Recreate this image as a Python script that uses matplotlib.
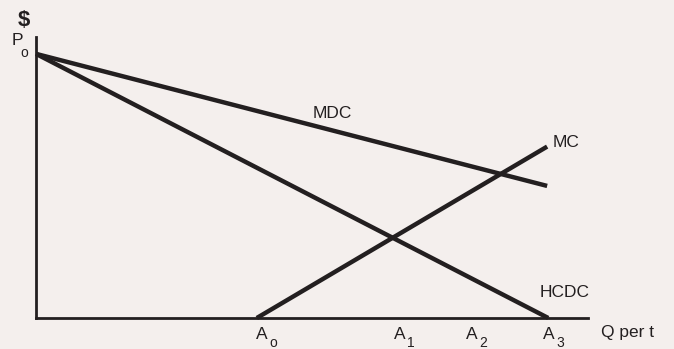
import matplotlib
matplotlib.use("Agg")
import matplotlib.pyplot as plt

# ---- data (abstract diagram units) ----
p0 = 94.0                      # price intercept P0
q_end = 92.6                   # right end of MDC / MC lines
mdc_end = 47.0                 # MDC value at q_end
mc_end = 61.0                  # MC value at q_end
a0 = 40.0                      # MC starts at A0
a3 = 92.8                      # HCDC reaches zero at A3
a_positions = [40.9, 65.9, 79.0, 92.9]    # A0..A3 label positions
a_subs = ["o", "1", "2", "3"]

FONT = ["Liberation Sans", "DejaVu Sans"]
plt.rcParams["font.family"] = FONT

BG = "#f4efed"
INK = "#231f20"

fig = plt.figure(figsize=(6.74, 3.49), dpi=100, facecolor=BG)
ax = fig.add_axes([36 / 674, 31 / 349, (588 - 36) / 674, (318 - 37) / 349])
ax.set_facecolor(BG)
ax.set_xlim(0, 100)
ax.set_ylim(0, 100)
for s in ["top", "right"]:
    ax.spines[s].set_visible(False)
for s in ["left", "bottom"]:
    ax.spines[s].set_linewidth(2.0)
    ax.spines[s].set_color(INK)
ax.set_xticks([])
ax.set_yticks([])

lw = 3.2
ax.plot([0, q_end], [p0, mdc_end], color=INK, lw=lw, solid_capstyle="butt", clip_on=False)
ax.plot([0, a3], [p0, 0], color=INK, lw=lw, solid_capstyle="butt", clip_on=False)
ax.plot([a0, q_end], [0, mc_end], color=INK, lw=lw, solid_capstyle="butt", clip_on=False)

fs = 12.5
sub_fs = 10


def label_with_sub(x, y, main, sub, dx, dy):
    ax.text(x, y, main, fontsize=fs, color=INK, ha="center", va="center", clip_on=False)
    ax.annotate(sub, (x, y), xytext=(dx, dy), textcoords="offset points",
                fontsize=sub_fs, color=INK, ha="center", va="center",
                annotation_clip=False)


ax.text(-2.2, 106, "$", fontsize=16, fontweight="bold", color=INK,
        ha="center", va="center", clip_on=False)
label_with_sub(-3.4, 98.6, "P", "o", 5.0, -8.5)
ax.text(53.6, 72.6, "MDC", fontsize=fs, color=INK, ha="center", va="center")
ax.text(96.0, 62.3, "MC", fontsize=fs, color=INK, ha="center", va="center", clip_on=False)
ax.text(95.8, 8.9, "HCDC", fontsize=fs, color=INK, ha="center", va="center", clip_on=False)
ax.text(107.2, -5.3, "Q per t", fontsize=fs, color=INK, ha="center", va="center", clip_on=False)
for x, s in zip(a_positions, a_subs):
    label_with_sub(x, -5.7, "A", s, 8.0, -6.5)

fig.savefig("out.png", dpi=100, facecolor=BG)
